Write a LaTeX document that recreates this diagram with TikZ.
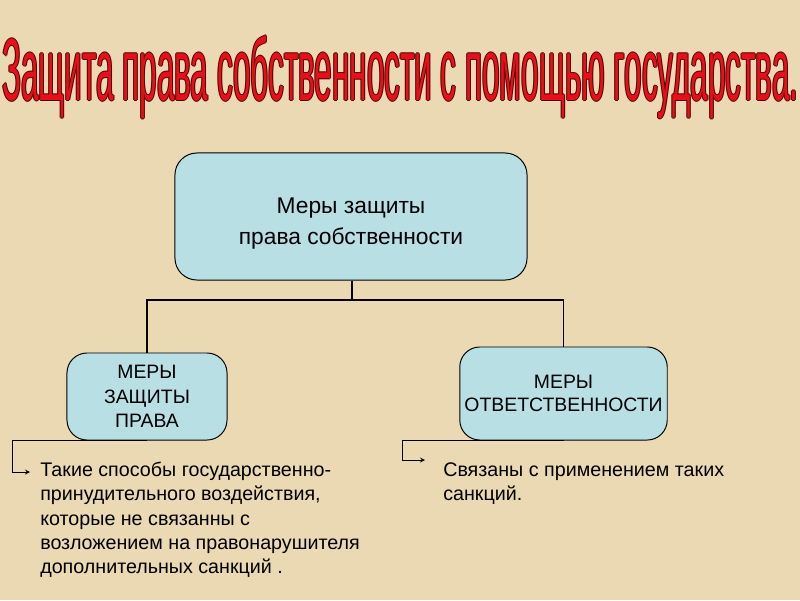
\documentclass[tikz,border=0pt]{standalone}
\usepackage{fontspec}
\setmainfont{Liberation Sans}
\usepackage{graphicx}
\definecolor{parchment}{RGB}{234,217,179}
\definecolor{boxblue}{RGB}{184,223,228}
\definecolor{titlered}{RGB}{232,16,24}
\definecolor{titleedge}{RGB}{80,0,0}
\newcommand{\titletext}{\resizebox{19.9cm}{1.62cm}{Защита права собственности с помощью государства.}}
\begin{document}
\begin{tikzpicture}[x=0.025cm, y=-0.025cm,
    main box/.style={draw, rounded corners=0.55cm, fill=boxblue, line width=0.7pt, align=center},
    link/.style={line width=1.4pt},
    note arrow/.style={->, >=stealth, line width=0.6pt}]
  \tikzstyle{every node}=[font=\fontsize{14}{17.2}\selectfont]

  % background
  \fill[parchment] (0,0) rectangle (800,600);
  \useasboundingbox (0,0) rectangle (800,600);

  % title (dark rim, then red face)
  \foreach \dx/\dy in {-1/0, 1/0, 0/-1, 0/1}
    \node[anchor=base west, inner sep=0, text=titleedge] at (2+\dx,100+\dy) {\titletext};
  \node[anchor=base west, inner sep=0, text=titlered] (title) at (2,100) {\titletext};

  % boxes
  \node[main box, minimum width=8.8cm, minimum height=3.175cm, font=\fontsize{16.2}{22}\selectfont] (top) at (351,216.5)
    {\rule{0pt}{21pt}Меры защиты\\права собственности};
  \node[main box, rounded corners=0.5cm, minimum width=4cm, minimum height=2.175cm, font=\fontsize{13.8}{17.5}\selectfont] (left) at (147,396.5)
    {МЕРЫ\\ЗАЩИТЫ\\ПРАВА};
  \node[main box, rounded corners=0.5cm, minimum width=5.175cm, minimum height=2.325cm, font=\fontsize{13.8}{16}\selectfont] (right) at (563.5,393.5)
    {МЕРЫ\\ОТВЕТСТВЕННОСТИ};

  % notes
  \node[anchor=north west, align=left, inner sep=0] (lnote) at (40,462)
    {Такие способы государственно-\\принудительного воздействия,\\которые не связанны с\\возложением на правонарушителя\\дополнительных санкций .};
  \node[anchor=north west, align=left, inner sep=0] (rnote) at (443,462)
    {Связаны с применением таких\\санкций.};

  % connectors
  \coordinate (fork) at (352,300);
  \draw[link] (top.south -| fork) -- (fork);
  \draw[link] (fork) -| (left.north);
  \draw[link] (fork) -| (right.north);

  \coordinate (lbend) at (12,472);
  \coordinate (ltip) at (30,472);
  \draw[note arrow] (left.south) -| (lbend) -- (ltip);
  \coordinate (rbend) at (402,460);
  \coordinate (rtip) at (425,460);
  \draw[note arrow] (right.south) -| (rbend) -- (rtip);
\end{tikzpicture}
\end{document}
